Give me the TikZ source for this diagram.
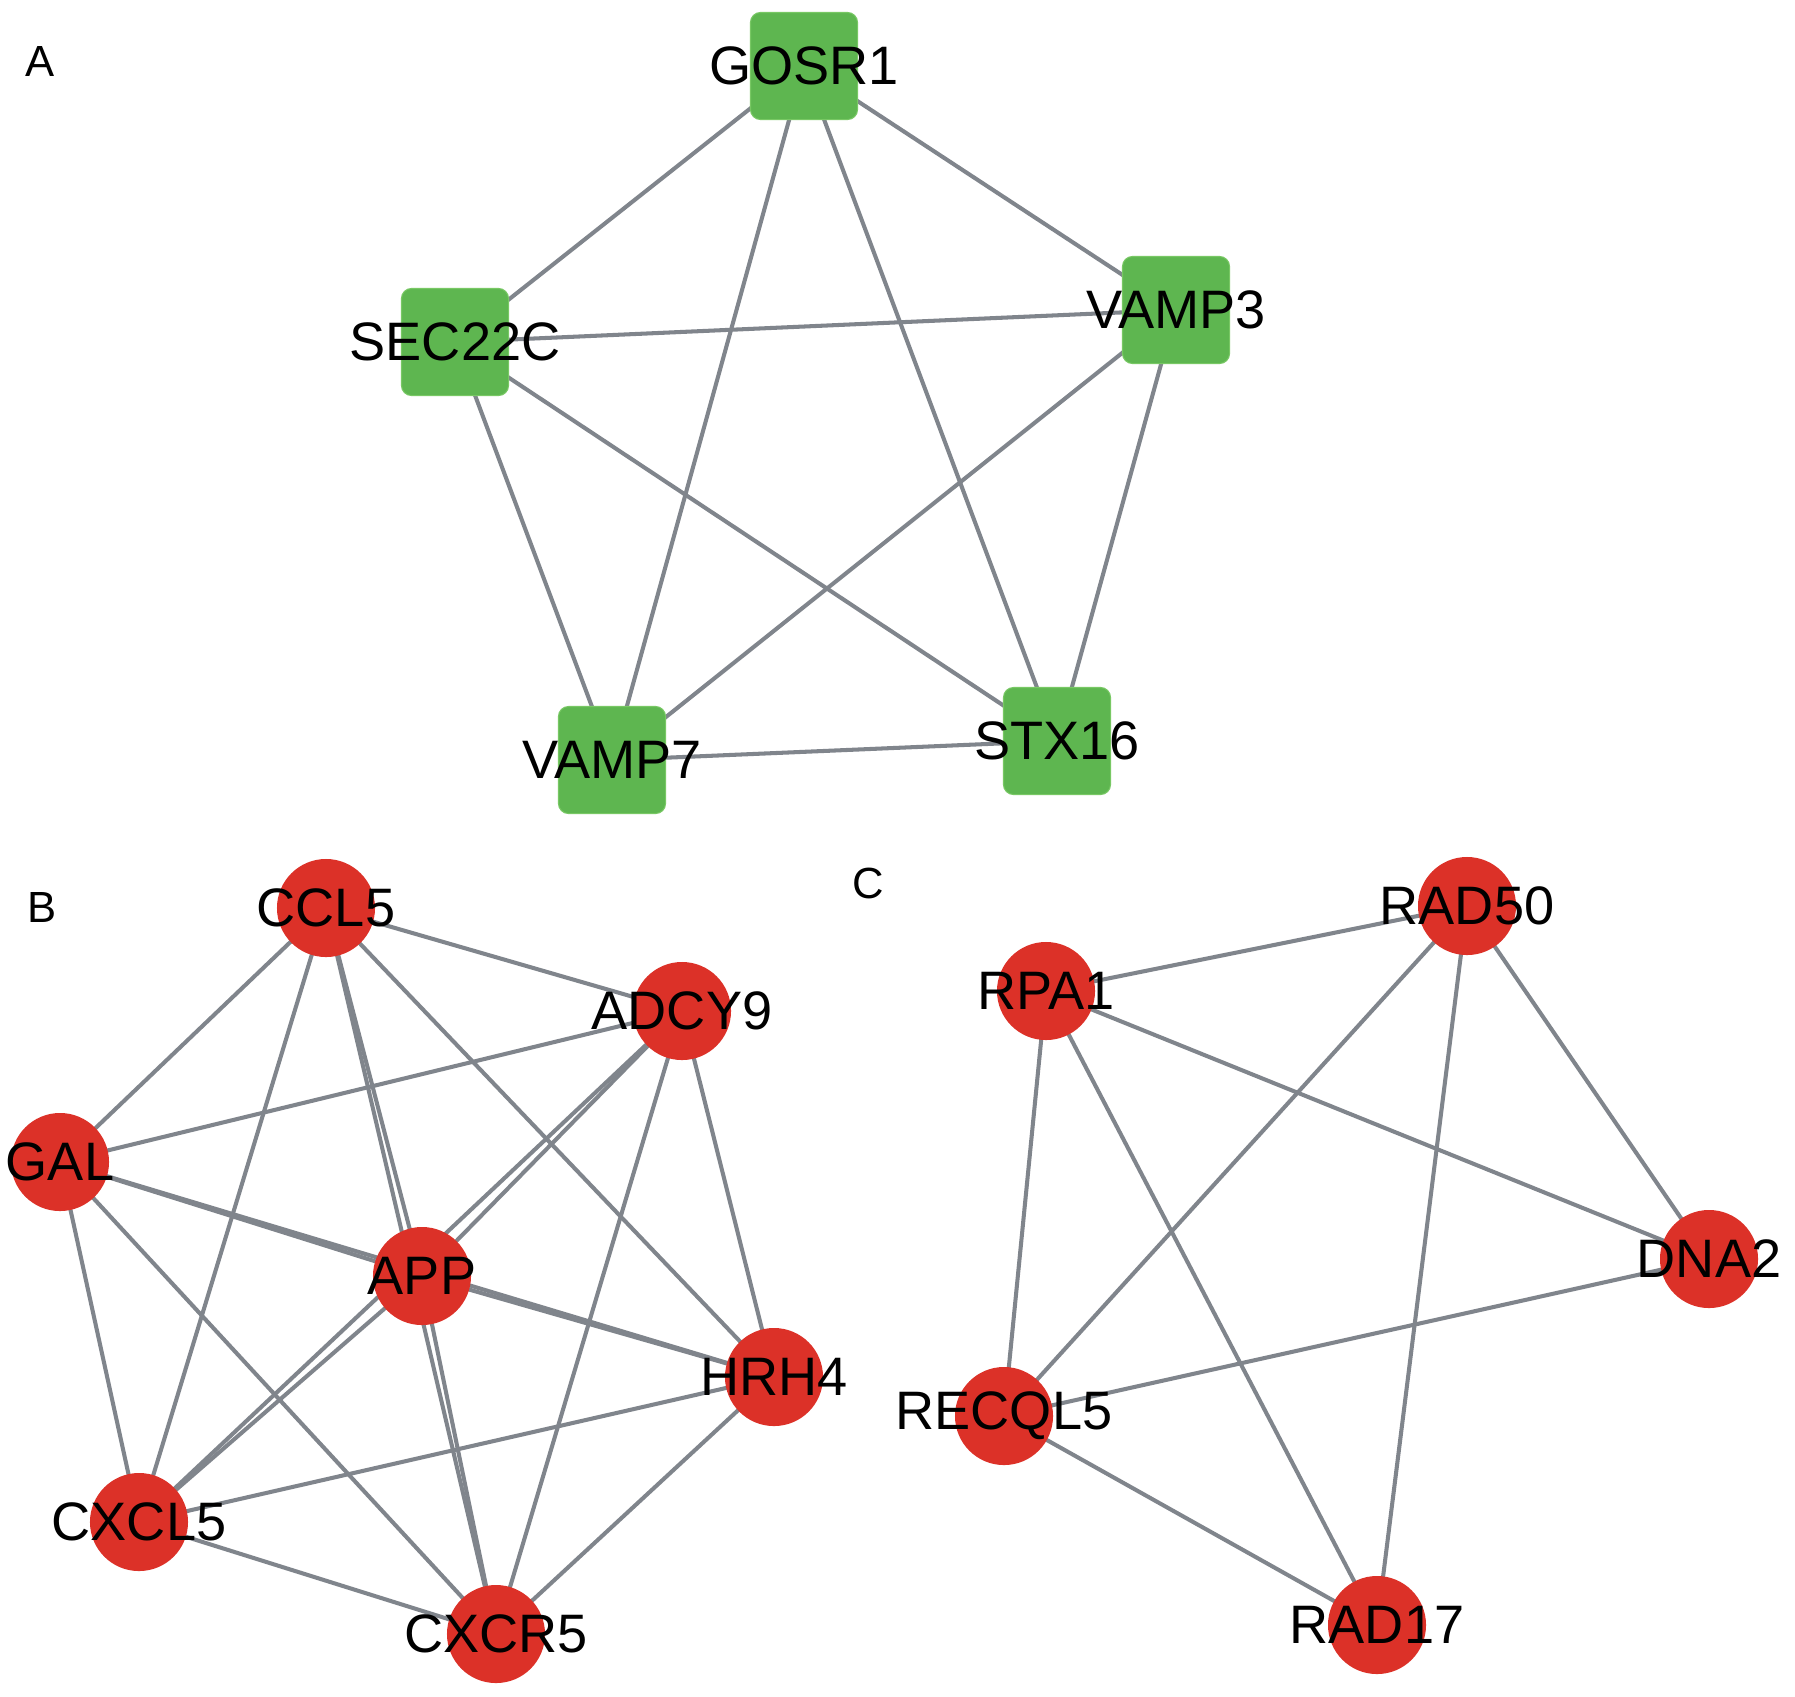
\documentclass[tikz,border=0pt]{standalone}
\usepackage{fontspec}
\setmainfont{Liberation Sans}
\usetikzlibrary{backgrounds}
\definecolor{nodegreen}{RGB}{94,182,80}
\definecolor{greenedge}{RGB}{120,200,100}
\definecolor{nodered}{RGB}{220,49,40}
\definecolor{edgegray}{RGB}{128,133,140}
\tikzset{
  sq/.style={rectangle, rounded corners=0.1cm, minimum size=1.07cm, inner sep=0pt, fill=nodegreen, draw=greenedge, line width=0.3pt},
  rc/.style={circle, minimum size=0.98cm, inner sep=0pt, fill=nodered},
  lbl/.style={font=\fontsize{15.4pt}{18pt}\selectfont, text=black, inner sep=0pt},
  panel/.style={font=\fontsize{12.4pt}{15pt}\selectfont, text=black, inner sep=0pt},
  ed/.style={draw=edgegray, line width=1.15pt}
}
\begin{document}
\begin{tikzpicture}[x=0.01cm, y=-0.01cm]
\useasboundingbox (0,0) rectangle (1795,1696);
% panel letters
\node[panel] (pA) at (40,61) {A};
\node[panel] (pB) at (42,907) {B};
\node[panel] (pC) at (868,883) {C};
% Panel A
\node[sq, label={[lbl]center:GOSR1}] (gosr1) at (804,66) {};
\node[sq, label={[lbl]center:SEC22C}] (sec22c) at (455,342) {};
\node[sq, label={[lbl]center:VAMP3}] (vamp3) at (1176,310) {};
\node[sq, label={[lbl]center:VAMP7}] (vamp7) at (612,760) {};
\node[sq, label={[lbl]center:STX16}] (stx16) at (1057,741) {};
% Panel B
\node[rc, label={[lbl]center:CCL5}] (ccl5) at (326,908) {};
\node[rc, label={[lbl]center:ADCY9}] (adcy9) at (682,1011) {};
\node[rc, label={[lbl]center:GAL}] (gal) at (60,1162) {};
\node[rc, label={[lbl]center:APP}] (app) at (422,1276) {};
\node[rc, label={[lbl]center:HRH4}] (hrh4) at (774,1377) {};
\node[rc, label={[lbl]center:CXCL5}] (cxcl5) at (139,1522) {};
\node[rc, label={[lbl]center:CXCR5}] (cxcr5) at (496,1634) {};
% Panel C
\node[rc, label={[lbl]center:RAD50}] (rad50) at (1467,906) {};
\node[rc, label={[lbl]center:RPA1}] (rpa1) at (1046,991) {};
\node[rc, label={[lbl]center:DNA2}] (dna2) at (1709,1259) {};
\node[rc, label={[lbl]center:RECQL5}] (recql5) at (1004,1416) {};
\node[rc, label={[lbl]center:RAD17}] (rad17) at (1377,1625) {};
\begin{scope}[on background layer]
\fill[white] (0,0) rectangle (1795,1696);
% A edges
\foreach \a/\b in {gosr1/sec22c, gosr1/vamp3, gosr1/vamp7, gosr1/stx16, sec22c/vamp3, sec22c/vamp7, sec22c/stx16, vamp3/vamp7, vamp3/stx16, vamp7/stx16}
  \draw[ed] (\a.center) -- (\b.center);
% B edges (complete graph)
\foreach \a/\b in {ccl5/adcy9, ccl5/gal, ccl5/app, ccl5/hrh4, ccl5/cxcl5, ccl5/cxcr5,
  adcy9/gal, adcy9/app, adcy9/hrh4, adcy9/cxcl5, adcy9/cxcr5,
  gal/app, gal/hrh4, gal/cxcl5, gal/cxcr5,
  app/hrh4, app/cxcl5, app/cxcr5,
  hrh4/cxcl5, hrh4/cxcr5, cxcl5/cxcr5}
  \draw[ed] (\a.center) -- (\b.center);
% C edges
\foreach \a/\b in {rpa1/rad50, rpa1/dna2, rpa1/recql5, rpa1/rad17, rad50/recql5, rad50/rad17, rad50/dna2, dna2/recql5, recql5/rad17}
  \draw[ed] (\a.center) -- (\b.center);
\end{scope}
\end{tikzpicture}
\end{document}
